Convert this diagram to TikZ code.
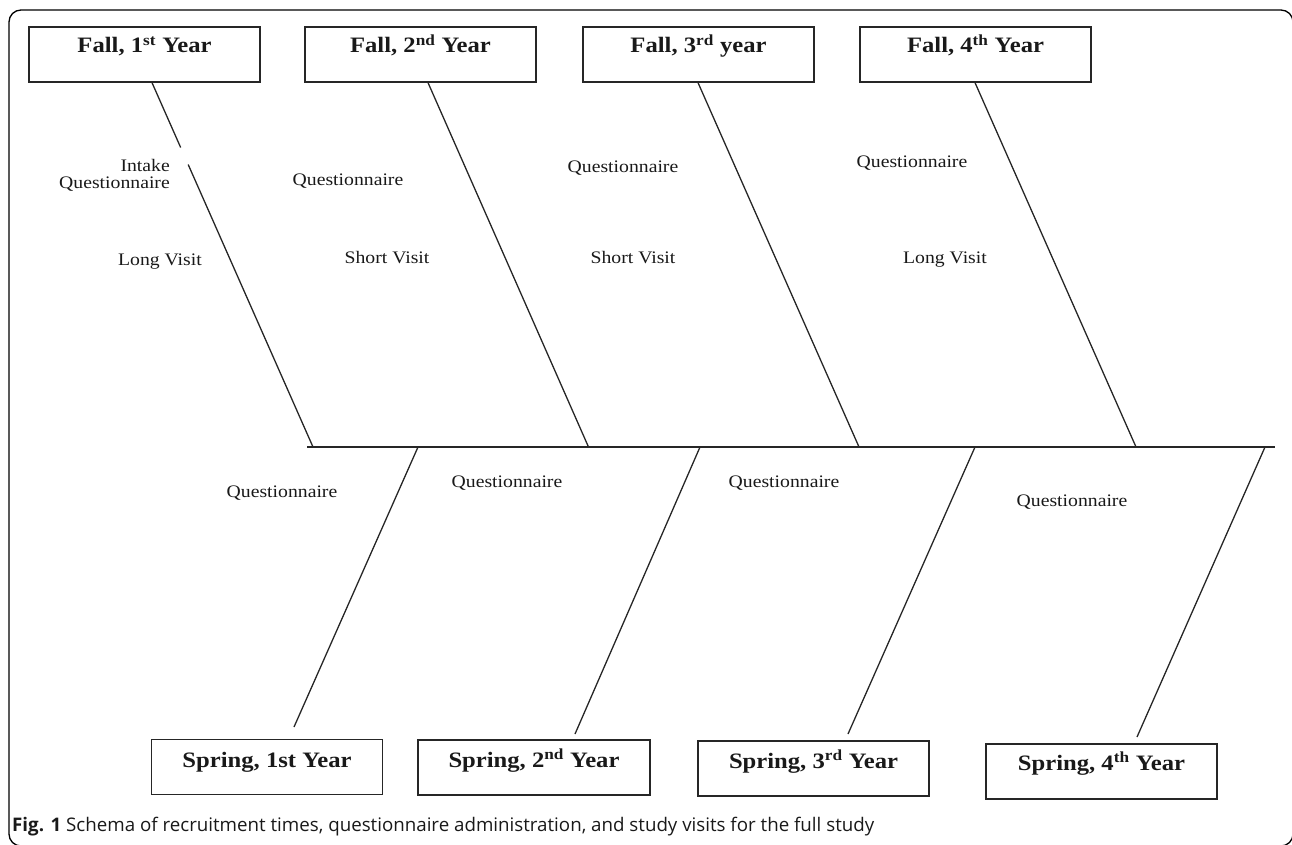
\documentclass[tikz,border=0pt]{standalone}
\usepackage{fontspec}
\usepackage{graphicx}
\setmainfont{Liberation Serif}
\newfontfamily\tnr[FakeStretch=1.12]{Liberation Serif}
\newfontfamily\capfont{Open Sans}
\usetikzlibrary{calc}
\tikzset{
  yearbox/.style={draw=black!85, line width=1.3pt, minimum width=231pt, minimum height=55pt, inner sep=0pt},
  title/.style={font=\tnr\bfseries\fontsize{22}{24}\selectfont, inner sep=0pt, text=black!90, anchor=base},
  lbl/.style={font=\tnr\fontsize{17.6}{17}\selectfont, inner sep=0pt, text=black!90},
  bone/.style={line width=1.3pt, draw=black!85},
  frame/.style={line width=1.3pt, draw=black, rounded corners=12pt},
}
\begin{document}
\begin{tikzpicture}[x=1pt,y=-1pt]
\useasboundingbox (0,0) rectangle (1292,845);
\draw[frame] (9,10) rectangle (1293,846);

% top boxes
\node[yearbox] (f1) at (144.5,54.5) {};
\node[yearbox] (f2) at (420.5,54.5) {};
\node[yearbox] (f3) at (698.5,54.5) {};
\node[yearbox] (f4) at (975.5,54.5) {};
\node[title] (tf1) at (144.5,53) {Fall, 1\textsuperscript{st} Year};
\node[title] (tf2) at (420.5,53) {Fall, 2\textsuperscript{nd} Year};
\node[title] (tf3) at (698.5,53) {Fall, 3\textsuperscript{rd} year};
\node[title] (tf4) at (975.5,53) {Fall, 4\textsuperscript{th} Year};

% bottom boxes
\node[yearbox] (s1) at (267,767) {};
\node[yearbox, minimum width=232pt] (s2) at (534,767.5) {};
\node[yearbox] (s3) at (813.5,768.5) {};
\node[yearbox] (s4) at (1101.5,771.5) {};
\node[title] (ts1) at (267,767) {Spring, 1st Year};
\node[title] (ts2) at (534,767) {Spring, 2\textsuperscript{nd} Year};
\node[title] (ts3) at (813.5,768) {Spring, 3\textsuperscript{rd} Year};
\node[title] (ts4) at (1101.5,770.5) {Spring, 4\textsuperscript{th} Year};

% spine
\coordinate (sp0) at (307,447);
\coordinate (sp1) at (1275,447);
\draw[bone] (sp0) -- (sp1);

% top bones
\coordinate (a1) at ($(f1.south)+(7.5,0)$);
\coordinate (a2) at ($(f2.south)+(7.5,0)$);
\coordinate (a3) at ($(f3.south)+(-0.5,0)$);
\coordinate (a4) at ($(f4.south)+(-0.5,0)$);
\coordinate (t1) at (313,447);
\coordinate (t2) at (588.5,447);
\coordinate (t3) at (859,447);
\coordinate (t4) at (1136,447);
\draw[bone] (a1) -- ($(a1)!0.178!(t1)$);
\draw[bone] ($(a1)!0.2247!(t1)$) -- (t1);
\draw[bone] (a2) -- (t2);
\draw[bone] (a3) -- (t3);
\draw[bone] (a4) -- (t4);

% bottom bones
\coordinate (b1) at (418,447);
\coordinate (b2) at (700,447);
\coordinate (b3) at (975,447);
\coordinate (b4) at (1265,447);
\coordinate (e1) at (294,727);
\coordinate (e2) at (575,734);
\coordinate (e3) at (848,734);
\coordinate (e4) at (1137,737);
\draw[bone] (b1) -- (e1);
\draw[bone] (b2) -- (e2);
\draw[bone] (b3) -- (e3);
\draw[bone] (b4) -- (e4);

% labels, top
\node[lbl, align=right, anchor=east] (l1a) at (170,175) {Intake\\Questionnaire};
\node[lbl] (l1b) at (160,262) {Long Visit};
\node[lbl] (l2a) at (348,181) {Questionnaire};
\node[lbl] (l2b) at (387,258) {Short Visit};
\node[lbl] (l3a) at (623,168) {Questionnaire};
\node[lbl] (l3b) at (633,258) {Short Visit};
\node[lbl] (l4a) at (912,163) {Questionnaire};
\node[lbl] (l4b) at (945,260) {Long Visit};

% labels, bottom
\node[lbl] (q1) at (282,493) {Questionnaire};
\node[lbl] (q2) at (507,483) {Questionnaire};
\node[lbl] (q3) at (784,483) {Questionnaire};
\node[lbl] (q4) at (1072,502) {Questionnaire};

% caption
\node[anchor=base west, inner sep=0pt, text=black!90] (cap) at (12,831)
  {\resizebox{862pt}{!}{\capfont\fontsize{16.4}{18}\selectfont\textbf{Fig. 1} Schema of recruitment times, questionnaire administration, and study visits for the full study}};
\end{tikzpicture}
\end{document}
